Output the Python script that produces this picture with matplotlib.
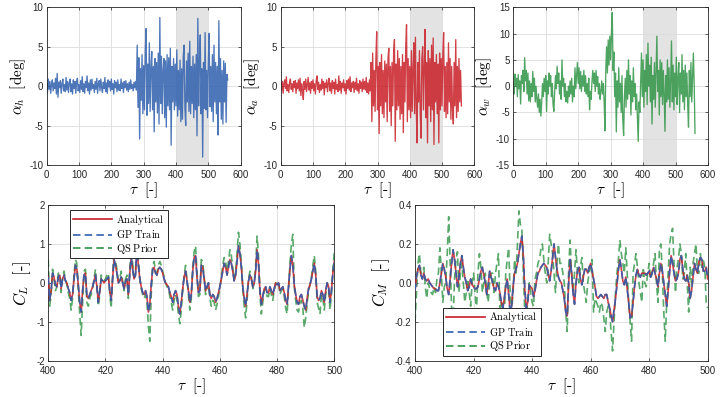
import numpy as np
import matplotlib
matplotlib.use("Agg")
import matplotlib.pyplot as plt

plt.rcParams['font.family'] = ['Liberation Sans', 'DejaVu Sans']
plt.rcParams['mathtext.fontset'] = 'cm'
plt.rcParams['axes.unicode_minus'] = False

# ---------------- data: top panels (tau from 0, step 2.5) ----------------
TOP_T0 = 0.0
TOP_STEP = 2.5
alpha_h = [
    0.3, -0.8, 0.9, -0.4, 0.6, -0.9, 0.2, 0.8, -0.6, 0.4,
    -0.3, 1.0, -1.0, 1.6, -1.4, 0.5, -0.2, 0.7, -0.9, 0.3,
    0.9, -0.6, 0.2, -0.7, 1.1, -0.5, 0.6, -0.8, 0.4, 0.9,
    -0.7, 0.3, -1.0, 0.8, -0.3, 0.6, -0.9, 0.5, 1.0, -0.6,
    0.2, -0.8, 0.7, -0.4, 1.2, -0.7, 0.3, -0.9, 0.6, -0.2,
    1.3, -0.6, 0.4, -1.0, 0.8, -0.5, 0.9, -0.3, 0.2, -0.8,
    0.6, -0.4, 1.0, -0.9, 0.3, 0.7, -0.6, 0.9, -0.2, -0.8,
    0.5, -0.3, 1.1, -0.7, 0.4, -0.9, 0.8, -0.1, 0.6, -0.6,
    0.9, -0.4, 0.3, -1.0, 0.7, -0.2, 0.5, -0.7, 0.8, -0.5,
    0.2, -0.6, 0.9, -0.3, 0.4, -0.8, 0.6, -0.2, 0.7, -0.5,
    0.3, -0.7, 0.5, -0.4, 0.8, -0.3, 0.2, -0.6, 0.5, -0.2,
    0.6, -0.5,
    5.2, -2.7, 3.6, -6.7, 2.2, -1.8, 4.0, -3.5, 2.6, -3.0,
    4.5, 7.3, -3.7, 2.8, -2.2, 5.5, -3.2, 2.4, 4.4, -3.0,
    2.5, -5.8, 3.5, -2.0, 3.0, -3.4, 4.2, -4.8, 8.7, -2.2,
    3.8, -3.5, 2.0, 3.5, -4.0, 3.2, -5.2, 4.0, -2.5, 3.6,
    -3.0, 4.8, -7.5, 2.5, -2.0, 3.5, -3.0, 2.8, -2.5, 4.6,
    -3.8, 2.0, -3.0, 3.3, -4.5, 2.2, -4.2, 3.8, 5.2, -2.8,
    -5.0, 3.2, -2.0, 4.2, -3.2, 5.7, -3.5, 2.5, -2.2, 3.8,
    -4.0, 2.8, -3.0, 4.0, -6.3, 8.6, -2.5, 3.0, 6.5, -3.5,
    2.2, -9.0, 3.0, -2.8, 6.8, -3.0, 2.0, -4.0, 3.2, 6.7,
    -2.6, 2.5, -3.2, 4.0, -4.5, 5.2, -2.0, 3.0, -3.5, 2.5,
    -6.2, 8.3, -2.0, 3.5, -4.2, 2.0, -4.8, 3.2, -2.0, 2.9,
    -4.6, 1.5, 0.8,
]
alpha_a = [
    0.3, -0.5, 0.6, -0.9, 0.4, 0.8, -0.3, 1.2, -0.6, 0.2,
    -0.8, 0.5, 0.9, -0.4, 0.3, -0.7, 0.6, -0.2, 0.7, -0.9,
    0.4, -0.3, 0.8, -0.6, 1.0, -1.2, 0.3, -0.5, -1.7, 0.6,
    -0.4, 0.9, -0.7, 0.2, 1.1, -0.5, 0.4, -0.9, 0.6, -0.3,
    0.8, -0.6, 0.3, -1.0, 0.7, 1.3, -0.4, 0.5, -0.8, 0.2,
    -0.5, 0.9, -0.3, 0.6, -1.1, 0.4, -0.2, 0.8, -0.7, 0.3,
    1.0, -0.6, 0.4, -0.9, 0.7, -0.3, 0.5, -1.0, 0.9, -0.4,
    0.2, -0.7, 1.3, -0.5, 0.6, -0.9, 0.4, -0.2, 0.8, -0.6,
    0.3, -1.0, 0.7, -0.3, 0.9, -0.5, 1.2, -0.7, 0.4, -0.2,
    0.6, -0.8, 0.5, -0.4, 1.0, -0.6, 0.3, -0.9, 0.7, -0.3,
    0.5, -0.7, 0.9, -0.4, 0.6, -0.5, 1.1, -0.8, 0.4, -1.0,
    0.8, -0.6,
    3.0, -4.5, 4.2, -2.5, 2.0, -3.2, 3.5, 6.9, -3.0, 2.5,
    -6.0, 3.0, -2.5, 4.0, -3.5, 2.0, -4.0, 3.2, -2.0, 2.8,
    -4.5, 3.5, 4.8, -3.2, 2.5, -5.0, 3.0, -2.5, 4.2, 5.9,
    -7.0, 2.8, -3.0, 4.5, -2.5, 3.5, -4.2, 2.5, -3.5, 4.0,
    -5.9, 3.0, -2.0, 5.0, 7.8, -4.5, 3.5, -3.0, 2.5, -4.0,
    4.5, -3.2, 2.0, 5.5, -3.5, 6.2, -2.5, -7.2, 3.0, -2.0,
    4.5, -3.5, -6.6, 3.5, 5.0, -3.0, 2.5, 7.2, -4.0, 3.0,
    -7.2, 4.5, -2.5, 3.5, -4.5, 5.2, -3.0, 6.1, -7.4, 3.0,
    -2.0, 4.0, -3.5, 2.8, -7.2, 4.2, -3.0, 3.5, -2.5, 4.0,
    6.8, -3.2, 2.5, -4.0, 3.0, -3.5, 5.5, -2.0, 3.5, -4.2,
    2.5, -3.0, -4.8, 3.0, -2.5, 5.9, -4.0, 2.5, -3.2, 3.5,
    -2.0, 2.0, -2.5,
]
alpha_w = [
    0.5, -1.5, 2.3, 0.0, 1.5, -2.0, 2.2, -0.5, 1.0, -3.4,
    2.0, 0.5, 3.0, -1.0, 5.4, 1.0, 3.0, -1.5, 2.5, -2.8,
    1.0, -3.0, 0.5, -2.0, 2.8, -1.0, 1.5, -3.0, 0.0, -2.5,
    -4.0, -1.5, -5.0, -2.5, -5.7, -3.0, 0.5, -2.0, 1.5, -1.0,
    2.0, -4.8, 1.0, -1.5, 2.5, 0.0, 2.0, -2.0, 0.5, -3.5,
    -4.8, -1.0, 2.0, -0.5, 3.8, 0.5, 2.5, -1.5, 1.0, -2.5,
    5.0, 0.0, 1.5, -2.0, 0.5, -3.0, -1.0, -3.2, 0.0, -2.0,
    1.0, -1.5, 1.5, -3.0, 0.0, -2.0, 3.5, -0.5, 2.0, 4.5,
    0.5, 3.5, -0.5, 2.8, -1.0, 2.0, 0.0, 3.0, -1.0, 2.0,
    -1.5, 0.5, -2.0, 1.5, -4.5, -1.0, -2.5, 1.0, 3.0, 0.5,
    2.5, -1.0, 3.0, 0.0, 1.8, -1.5, 0.5, -2.5, -1.0, 1.0,
    -1.5, 0.5,
    -3.0, -8.5, 3.0, 7.5, 2.5, 8.8, 4.0, 9.5, 5.0, 10.2,
    14.0, 3.0, 6.5, -2.0, 2.5, -8.7, 1.0, -4.0, 3.5, -3.0,
    0.5, -5.0, 2.0, -6.5, -9.4, -2.0, 1.5, -4.0, 3.0, -2.5,
    5.0, -1.5, 2.0, -5.5, 1.0, -3.0, 3.5, -2.0, 0.5, -4.5,
    -1.5, -6.0, -10.5, -3.0, -5.0, 0.5, 6.3, -2.0, 5.0, -4.0,
    3.0, -1.0, 6.0, -3.5, 8.2, 0.0, 4.0, -3.0, 5.5, -7.2,
    2.0, -2.5, 4.5, -4.0, 2.5, 9.5, -1.0, 3.0, -5.5, 5.0,
    -2.0, 4.5, -3.5, 3.0, -1.5, -8.6, 2.0, -3.0, 5.0, -2.5,
    3.5, -4.0, 1.0, 8.6, -3.0, 4.0, -4.5, 2.5, -2.0, 5.5,
    -3.5, 1.5, 4.5, -5.0, 2.5, -1.5, 6.0, -3.0, 3.0, -4.5,
    4.0, -2.0, 2.5, -3.5, -7.8, 3.0, -2.0, 4.5, -3.0, 1.5,
    6.3, 0.5, -9.0,
]

# ---------------- data: bottom panels (tau from 400, step 0.5) ----------------
BOT_T0 = 400.0
BOT_STEP = 0.5
cl_analytical = [
    0.15, -0.45, -0.2, 0.25, 0.15, -0.05, -0.1, 0.15, 0.2, -0.15,
    0.1, 0.2, 0.05, 0.0, -0.15, -0.25, -0.45, -0.3, 0.1, 0.45,
    0.35, -0.05, -0.5, -0.75, -0.2, 0.2, 0.25, -0.35, -0.4, -0.3,
    -0.2, -0.1, 0.05, 0.2, -0.1, -0.5, -0.2, 0.1, 0.05, 0.0,
    0.05, 0.1, 0.15, -0.2, -0.45, 0.1, 0.6, 0.45, 0.25, 0.0,
    0.05, 0.15, 0.0, -0.15, 0.05, 0.1, -0.3, 0.25, 0.65, 0.35,
    0.1, 0.2, 0.9, 0.45, 0.1, -0.1, -0.25, -0.3, -0.2, -0.35,
    -0.75, -0.55, -0.05, 0.35, 0.4, 0.25, 0.2, 0.35, 0.4, 0.35,
    0.25, 0.1, 0.0, -0.05, -0.1, -0.25, -0.35, -0.5, -0.3, -0.2,
    -0.3, -0.6, -0.8, -0.5, -0.15, 0.15, 0.3, 0.05, -0.2, -0.5,
    -0.3, 0.3, 0.65, 0.7, 0.15, -0.25, -0.2, 0.45, 0.4, 0.1,
    -0.2, -0.1, 0.0, -0.3, -0.4, -0.3, -0.35, -0.5, -0.4, -0.25,
    -0.1, 0.1, 0.3, 0.5, 0.4, 0.2, 0.4, 0.6, 0.5, 0.3,
    0.05, 0.2, 0.55, 0.95, 0.75, 0.4, -0.1, -0.4, -0.6, -0.3,
    0.05, 0.2, 0.1, -0.1, 0.0, 0.3, 0.85, 0.5, -0.2, -0.55,
    -0.35, -0.15, -0.1, -0.25, -0.25, -0.1, -0.2, -0.3, -0.15, 0.0,
    -0.05, 0.0, -0.2, -0.15, -0.1, -0.25, -0.45, -0.55, -0.1, 0.35,
    0.7, 0.45, -0.05, -0.3, -0.5, -0.55, -0.35, -0.3, -0.45, -0.6,
    -0.7, -0.4, -0.15, -0.05, 0.1, 0.3, 0.5, 0.2, -0.35, -0.45,
    -0.4, -0.2, -0.3, -0.5, -0.2, 0.0, -0.1, -0.5, -0.2, 0.25,
    0.55,
]
cl_gp_train = list(cl_analytical)
cl_qs_prior = [
    0.6, -0.6, -0.3, 0.35, 0.1, -0.2, -0.1, 0.25, 0.25, -0.25,
    0.15, 0.3, 0.1, -0.05, -0.25, -0.4, -0.7, -0.4, 0.2, 0.6,
    0.5, -0.2, -0.8, -1.35, -0.5, 0.3, 0.35, -0.5, -0.6, -0.4,
    -0.3, -0.15, 0.1, 0.35, -0.1, -0.6, -0.3, 0.2, 0.1, 0.05,
    0.1, 0.2, 0.25, -0.3, -0.65, 0.2, 0.85, 0.6, 0.35, 0.05,
    0.1, 0.3, 0.05, -0.2, 0.1, 0.2, -0.4, 0.35, 0.9, 0.5,
    0.15, 0.3, 1.15, 0.6, 0.15, -0.15, -0.3, -0.4, -0.3, -0.5,
    -1.1, -1.5, -0.3, 0.45, 0.55, 0.3, 0.25, 0.45, 0.55, 0.45,
    0.3, 0.15, 0.0, -0.1, -0.15, -0.35, -0.5, -0.7, -0.45, -0.3,
    -0.45, -0.8, -1.05, -0.7, -0.2, 0.2, 0.45, 0.1, -0.3, -0.7,
    -0.4, 0.4, 0.8, 0.95, 0.25, -0.35, -0.3, 0.6, 0.55, 0.15,
    -0.3, -0.15, 0.0, -0.4, -0.6, -0.45, -0.5, -0.7, -0.55, -0.35,
    -0.15, 0.15, 0.45, 0.65, 0.55, 0.3, 0.55, 0.85, 0.7, 0.4,
    0.1, 0.3, 0.75, 1.3, 1.0, 0.55, -0.15, -0.6, -0.9, -0.45,
    0.1, 0.3, 0.15, -0.15, 0.0, 0.45, 1.2, 0.7, -0.3, -0.8,
    -0.5, -0.2, -0.15, -0.35, -0.35, -0.15, -0.3, -0.45, -0.2, 0.0,
    -0.05, 0.0, -0.3, -0.2, -0.15, -0.35, -0.65, -0.8, -0.15, 0.5,
    1.0, 1.25, -0.1, -0.45, -0.7, -0.75, -0.5, -0.45, -0.65, -1.15,
    -0.9, -0.55, -0.2, -0.05, 0.15, 0.45, 0.7, 0.3, -0.5, -0.65,
    -0.8, -0.3, -0.4, -0.7, -0.3, 0.0, -0.15, -0.7, -0.3, 0.35,
    0.8,
]
cm_analytical = [
    -0.04, 0.03, 0.07, 0.09, 0.04, 0.02, 0.05, 0.02, 0.01, 0.02,
    0.0, -0.01, -0.02, -0.03, -0.03, -0.04, -0.04, 0.0, 0.05, 0.1,
    0.07, 0.03, -0.03, -0.06, 0.02, 0.1, 0.17, 0.12, 0.05, -0.02,
    0.03, 0.1, 0.14, 0.08, 0.03, 0.0, -0.04, -0.02, 0.02, -0.01,
    -0.02, -0.03, -0.03, -0.02, 0.02, 0.06, 0.08, 0.04, 0.0, -0.06,
    -0.01, 0.06, 0.03, 0.0, -0.03, -0.04, 0.0, -0.02, -0.05, -0.1,
    -0.13, -0.08, -0.02, 0.02, -0.06, -0.15, -0.12, -0.02, 0.05, 0.07,
    0.1, 0.15, 0.2, 0.24, 0.14, -0.03, -0.13, -0.1, -0.01, -0.02,
    -0.03, -0.07, -0.04, 0.01, 0.05, 0.06, 0.08, 0.09, 0.1, 0.09,
    0.08, 0.05, 0.01, 0.06, 0.13, 0.2, 0.13, 0.07, 0.03, 0.01,
    0.0, -0.04, -0.08, -0.15, -0.17, 0.0, 0.12, 0.05, -0.05, -0.11,
    0.0, 0.06, 0.08, 0.02, -0.01, 0.03, 0.07, 0.07, 0.05, 0.08,
    0.1, 0.06, 0.02, -0.02, -0.07, -0.08, -0.07, -0.06, -0.07, -0.08,
    -0.06, -0.06, -0.1, -0.13, -0.17, -0.2, -0.14, -0.08, -0.01, 0.07,
    0.12, 0.07, 0.01, -0.01, 0.03, -0.03, -0.1, -0.18, -0.17, -0.1,
    -0.02, 0.04, 0.07, 0.04, 0.03, 0.05, 0.05, 0.05, 0.04, 0.05,
    0.06, 0.03, 0.05, 0.08, 0.05, 0.02, -0.02, 0.05, 0.1, 0.06,
    0.0, -0.06, -0.12, -0.04, 0.06, 0.14, 0.1, 0.05, 0.01, 0.02,
    0.05, 0.12, 0.14, 0.07, 0.02, 0.01, 0.04, 0.0, -0.08, -0.04,
    0.03, 0.1, 0.07, 0.05, 0.11, 0.13, 0.12, 0.06, 0.06, 0.08,
    0.02,
]
cm_gp_train = list(cm_analytical)
cm_qs_prior = [
    -0.2, -0.05, 0.1, 0.15, 0.05, 0.05, 0.08, -0.02, -0.08, 0.0,
    -0.03, -0.05, -0.06, -0.02, -0.05, 0.02, 0.05, 0.18, 0.05, -0.1,
    -0.02, 0.0, 0.15, 0.34, 0.1, -0.13, -0.2, 0.02, 0.12, 0.16,
    -0.05, 0.05, 0.1, 0.0, -0.1, -0.05, 0.02, -0.05, -0.12, 0.0,
    0.05, -0.05, -0.15, 0.05, 0.15, 0.08, -0.05, 0.0, 0.05, -0.05,
    -0.1, 0.0, 0.05, 0.05, -0.05, 0.05, 0.1, 0.15, -0.15, -0.1,
    -0.12, -0.18, 0.05, 0.12, 0.18, -0.05, -0.15, -0.05, 0.12, 0.05,
    0.2, 0.37, 0.3, 0.28, 0.05, -0.15, -0.18, -0.1, 0.0, -0.05,
    -0.1, -0.12, 0.02, 0.05, 0.1, 0.12, 0.17, 0.2, 0.12, 0.05,
    0.0, 0.1, 0.25, 0.2, 0.15, 0.05, -0.05, 0.1, 0.2, 0.1,
    0.1, 0.05, 0.0, -0.15, -0.25, 0.08, 0.22, 0.05, -0.05, 0.05,
    0.17, 0.05, 0.0, 0.08, 0.13, 0.0, -0.05, -0.1, 0.0, 0.05,
    0.08, 0.12, -0.15, -0.08, -0.1, -0.12, -0.15, -0.1, -0.12, -0.18,
    -0.25, -0.15, -0.12, -0.15, -0.25, -0.35, -0.2, -0.05, 0.05, 0.12,
    0.22, 0.15, 0.1, 0.05, 0.18, 0.05, -0.1, -0.2, -0.3, 0.05,
    0.1, 0.15, 0.08, 0.0, -0.05, -0.1, 0.08, 0.0, -0.02, 0.05,
    0.1, 0.02, 0.05, 0.1, 0.15, 0.0, -0.1, 0.18, 0.2, 0.05,
    -0.15, -0.3, -0.1, 0.05, 0.2, 0.25, 0.28, 0.1, -0.05, 0.08,
    0.12, 0.2, 0.15, 0.02, 0.05, 0.15, 0.0, -0.15, 0.08, 0.0,
    0.1, 0.15, 0.2, 0.05, 0.05, 0.15, 0.08, 0.12, 0.08, -0.1,
    -0.13,
]

top_ylabels = [r'$\alpha_h\ \ [\mathrm{deg}]$', r'$\alpha_a\ \ [\mathrm{deg}]$',
               r'$\alpha_w\ \ [\mathrm{deg}]$']
top_ylims = [(-10, 10), (-10, 10), (-15, 15)]
top_yticks = [[-10, -5, 0, 5, 10], [-10, -5, 0, 5, 10], [-15, -10, -5, 0, 5, 10, 15]]
top_xticks = [0, 100, 200, 300, 400, 500, 600]
shade_span = (400, 500)
legend_labels = [r'$\mathrm{Analytical}$', r'$\mathrm{GP\ Train}$', r'$\mathrm{QS\ Prior}$']
tau_label = r'$\tau\ \ [\text{-}]$'

BLUE = '#2f5fae'
RED = '#c81e26'
GREEN = '#2f9445'
FRAME = '#262626'

fig = plt.figure(figsize=(7.28, 3.97), dpi=100)

def style_axes(ax):
    for s in ax.spines.values():
        s.set_color(FRAME)
        s.set_linewidth(0.6)
    ax.tick_params(direction='in', top=True, right=True, length=2.5, width=0.5,
                   colors=FRAME, labelsize=7, pad=2.5)
    ax.tick_params(axis='x', pad=3.5)
    ax.grid(True, color='#dcdcdc', linewidth=0.6)
    ax.set_axisbelow(True)

top_pos = [(0.0641, 0.5844, 0.2665, 0.3972), (0.3856, 0.5844, 0.2659, 0.3972),
           (0.7051, 0.5844, 0.2674, 0.3972)]
top_data = [alpha_h, alpha_a, alpha_w]
top_colors = [BLUE, RED, GREEN]
for pos, vals, col, yl, ylim, yt in zip(top_pos, top_data, top_colors, top_ylabels,
                                         top_ylims, top_yticks):
    ax = fig.add_axes(pos)
    style_axes(ax)
    ax.axvspan(*shade_span, color='#e3e3e3', zorder=0.5, lw=0)
    t = TOP_T0 + TOP_STEP * np.arange(len(vals))
    ax.plot(t, vals, color=col, lw=0.95, alpha=0.85, zorder=2)
    ax.set_xlim(0, 600)
    ax.set_ylim(*ylim)
    ax.set_xticks(top_xticks)
    ax.set_yticks(yt)
    ax.set_ylabel(yl, fontsize=11, labelpad=1)
    ax.set_xlabel(tau_label, fontsize=11, labelpad=0.5)

bot_pos = [(0.0663, 0.0914, 0.3929, 0.3922), (0.5701, 0.0914, 0.4020, 0.3922)]
bot_sets = [(cl_analytical, cl_gp_train, cl_qs_prior), (cm_analytical, cm_gp_train, cm_qs_prior)]
bot_ylabels = [r'$C_L\ \ [\text{-}]$', r'$C_M\ \ [\text{-}]$']
bot_ylims = [(-2, 2), (-0.4, 0.4)]
bot_yticks = [[-2, -1, 0, 1, 2], [-0.4, -0.2, 0.0, 0.2, 0.4]]
bot_fmt = ['{:.0f}', '{:.1f}']
bot_xticks = [400, 420, 440, 460, 480, 500]
leg_anchor = [((0.076, 0.968), 'upper left'), ((0.096, 0.03), 'lower left')]

for pos, (ana, gp, qs), yl, ylim, yt, fmt, (anc, loc) in zip(
        bot_pos, bot_sets, bot_ylabels, bot_ylims, bot_yticks, bot_fmt, leg_anchor):
    ax = fig.add_axes(pos)
    style_axes(ax)
    t = BOT_T0 + BOT_STEP * np.arange(len(ana))
    l3, = ax.plot(t, qs, color=GREEN, lw=1.2, alpha=0.8, dashes=(4.5, 2.5), zorder=2)
    l1, = ax.plot(t, ana, color=RED, lw=1.2, alpha=0.85, zorder=3)
    l2, = ax.plot(t, gp, color=BLUE, lw=1.2, alpha=0.9, dashes=(4.5, 2.5), zorder=4)
    ax.set_xlim(400, 500)
    ax.set_ylim(*ylim)
    ax.set_xticks(bot_xticks)
    ax.set_yticks(yt)
    ax.set_yticklabels([fmt.format(v) for v in yt])
    ax.set_ylabel(yl, fontsize=12, labelpad=2)
    ax.set_xlabel(tau_label, fontsize=11, labelpad=0.5)
    leg = ax.legend([l1, l2, l3], legend_labels, loc=loc, bbox_to_anchor=anc,
                    fontsize=7.5, handlelength=3.8, handletextpad=0.4,
                    borderpad=0.25, labelspacing=0.15, fancybox=False,
                    framealpha=1, edgecolor=FRAME, borderaxespad=0)
    leg.get_frame().set_linewidth(0.7)
    for h in leg.get_lines():
        h.set_alpha(1.0)

fig.savefig('out.png', dpi=100)
